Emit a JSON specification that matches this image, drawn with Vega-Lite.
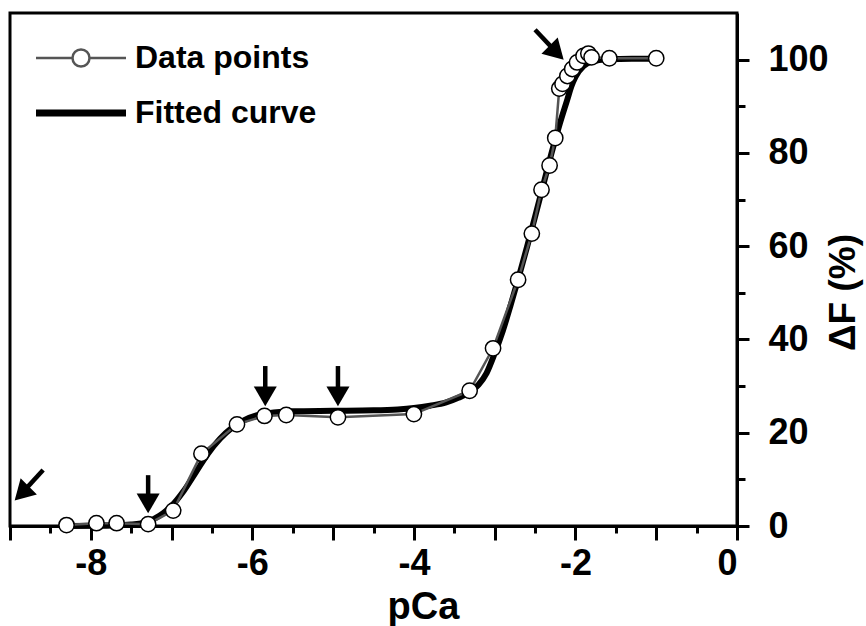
{
  "$schema": "https://vega.github.io/schema/vega-lite/v6.json",
  "width": 727,
  "height": 513,
  "autosize": {"type": "none"},
  "padding": {"left": 10, "top": 13, "right": 129, "bottom": 100},
  "background": "white",
  "datasets": {
    "points": [
      {"pCa": -8.30, "dF": 0.2}, {"pCa": -7.93, "dF": 0.6}, {"pCa": -7.68, "dF": 0.6},
      {"pCa": -7.29, "dF": 0.4}, {"pCa": -6.98, "dF": 3.3}, {"pCa": -6.63, "dF": 15.5},
      {"pCa": -6.19, "dF": 21.8}, {"pCa": -5.85, "dF": 23.6}, {"pCa": -5.58, "dF": 23.8},
      {"pCa": -4.94, "dF": 23.3}, {"pCa": -4.00, "dF": 24.0}, {"pCa": -3.31, "dF": 29.0},
      {"pCa": -3.02, "dF": 38.1}, {"pCa": -2.71, "dF": 52.8}, {"pCa": -2.54, "dF": 62.7},
      {"pCa": -2.42, "dF": 72.1}, {"pCa": -2.32, "dF": 77.3}, {"pCa": -2.25, "dF": 83.2},
      {"pCa": -2.20, "dF": 93.8}, {"pCa": -2.16, "dF": 94.8}, {"pCa": -2.10, "dF": 96.5},
      {"pCa": -2.04, "dF": 98.0}, {"pCa": -1.98, "dF": 99.4}, {"pCa": -1.90, "dF": 100.8},
      {"pCa": -1.84, "dF": 101.3}, {"pCa": -1.80, "dF": 100.5}, {"pCa": -1.58, "dF": 100.3},
      {"pCa": -1.00, "dF": 100.3}
    ],
    "fit": [
      {"pCa": -8.3, "dF": 0.0}, {"pCa": -7.8, "dF": 0.05}, {"pCa": -7.5, "dF": 0.3},
      {"pCa": -7.3, "dF": 0.9}, {"pCa": -7.15, "dF": 2.2}, {"pCa": -7.0, "dF": 4.3},
      {"pCa": -6.85, "dF": 7.5}, {"pCa": -6.7, "dF": 11.5}, {"pCa": -6.55, "dF": 15.5},
      {"pCa": -6.4, "dF": 18.7}, {"pCa": -6.25, "dF": 21.1}, {"pCa": -6.1, "dF": 22.7},
      {"pCa": -5.95, "dF": 23.7}, {"pCa": -5.8, "dF": 24.2}, {"pCa": -5.5, "dF": 24.6},
      {"pCa": -5.0, "dF": 24.7}, {"pCa": -4.5, "dF": 24.8}, {"pCa": -4.2, "dF": 25.0},
      {"pCa": -4.0, "dF": 25.3}, {"pCa": -3.8, "dF": 25.8}, {"pCa": -3.6, "dF": 26.5},
      {"pCa": -3.45, "dF": 27.5}, {"pCa": -3.3, "dF": 28.8}, {"pCa": -3.2, "dF": 30.3},
      {"pCa": -3.1, "dF": 32.8}, {"pCa": -3.0, "dF": 37.0}, {"pCa": -2.9, "dF": 41.8},
      {"pCa": -2.8, "dF": 47.5}, {"pCa": -2.7, "dF": 53.5}, {"pCa": -2.6, "dF": 59.8},
      {"pCa": -2.5, "dF": 66.3}, {"pCa": -2.4, "dF": 73.0}, {"pCa": -2.3, "dF": 79.7},
      {"pCa": -2.2, "dF": 85.9}, {"pCa": -2.1, "dF": 91.5}, {"pCa": -2.05, "dF": 94.3},
      {"pCa": -2.0, "dF": 96.3}, {"pCa": -1.9, "dF": 98.6}, {"pCa": -1.8, "dF": 99.6},
      {"pCa": -1.6, "dF": 100.1}, {"pCa": -1.3, "dF": 100.2}, {"pCa": -1.0, "dF": 100.2}
    ],
    "arrows": [
      {"kind": "down", "x0": -7.29, "y0": 10.9, "x1": -7.29, "y1": 4.85},
      {"kind": "down", "x0": -5.84, "y0": 34.3, "x1": -5.84, "y1": 27.8},
      {"kind": "down", "x0": -4.94, "y0": 34.3, "x1": -4.94, "y1": 27.8},
      {"kind": "downleft", "x0": -8.59, "y0": 12.0, "x1": -8.855, "y1": 7.0},
      {"kind": "downright", "x0": -2.50, "y0": 106.4, "x1": -2.233, "y1": 101.5}
    ]
  },
  "layer": [
    {
      "data": {"name": "fit"},
      "mark": {"type": "line", "strokeWidth": 6, "interpolate": "monotone"},
      "encoding": {
        "x": {
          "field": "pCa", "type": "quantitative",
          "scale": {"domain": [-9, 0], "nice": false, "zero": false},
          "axis": {
            "orient": "bottom",
            "values": [-9, -8.5, -8, -7.5, -7, -6.5, -6, -5.5, -5, -4.5, -4, -3.5, -3, -2.5, -2, -1.5, -1, -0.5, 0],
            "labelExpr": "datum.value % 2 === 0 ? '' + datum.value : ''",
            "labelOverlap": false,
            "labelFontSize": 36,
            "labelPadding": 6,
            "tickSize": {"condition": {"test": "datum.value % 1 !== 0", "value": 7}, "value": 14},
            "title": "pCa",
            "titleFontSize": 38,
            "titleX": 413,
            "titleY": 92,
            "titleAlign": "center",
            "titleBaseline": "alphabetic"
          }
        },
        "y": {
          "field": "dF", "type": "quantitative",
          "scale": {"domain": [0, 110], "nice": false, "zero": false},
          "axis": {
            "orient": "right",
            "values": [0, 10, 20, 30, 40, 50, 60, 70, 80, 90, 100],
            "labelExpr": "datum.value % 20 === 0 ? datum.label : ''",
            "labelOverlap": false,
            "labelFontSize": 36,
            "labelPadding": 19,
            "tickSize": {"condition": {"test": "datum.value % 20 !== 0", "value": 8}, "value": 12},
            "title": "ΔF (%)",
            "titleFontSize": 37,
            "titleAngle": 270,
            "titleX": 106,
            "titleY": 279,
            "titleAlign": "center",
            "titleBaseline": "middle"
          }
        },
        "stroke": {
          "datum": "Fitted curve",
          "scale": {"domain": ["Data points", "Fitted curve"], "range": ["#555555", "#000000"]},
          "legend": {
            "orient": "none",
            "legendX": 55,
            "legendY": 29,
            "title": null,
            "padding": 0,
            "symbolSize": 900,
            "symbolType": "M-3,0H3",
            "symbolStrokeWidth": 2.5,
            "labelFont": "Liberation Sans",
            "labelFontSize": 32,
            "labelFontWeight": "bold",
            "labelColor": "black",
            "labelLimit": 0,
            "labelOffset": 38,
            "rowPadding": 23,
            "encode": {
              "symbols": {
                "update": {
                  "shape": {"signal": "datum.value === 'Data points' ? 'M-3,0H-0.567M0.567,0H3M0.567,0A0.567,0.567,0,1,1,-0.567,0A0.567,0.567,0,1,1,0.567,0' : 'M-3,0H3'"},
                  "strokeWidth": {"signal": "datum.value === 'Data points' ? 2.5 : 7"},
                  "fill": {"signal": "datum.value === 'Data points' ? 'white' : 'transparent'"}
                }
              }
            }
          }
        }
      }
    },
    {
      "data": {"name": "points"},
      "mark": {"type": "line", "strokeWidth": 2.5},
      "encoding": {
        "x": {"field": "pCa", "type": "quantitative"},
        "y": {"field": "dF", "type": "quantitative"},
        "stroke": {"datum": "Data points"}
      }
    },
    {
      "data": {"name": "points"},
      "mark": {"type": "point", "shape": "circle", "filled": true, "fill": "white", "stroke": "black", "strokeWidth": 1.5, "size": 235, "opacity": 1},
      "encoding": {
        "x": {"field": "pCa", "type": "quantitative"},
        "y": {"field": "dF", "type": "quantitative"}
      }
    },
    {
      "data": {"name": "arrows"},
      "mark": {"type": "rule", "strokeWidth": 4.5, "color": "black"},
      "encoding": {
        "x": {"field": "x0", "type": "quantitative"},
        "y": {"field": "y0", "type": "quantitative"},
        "x2": {"field": "x1"},
        "y2": {"field": "y1"}
      }
    },
    {
      "data": {"name": "arrows"},
      "mark": {"type": "point", "shape": "triangle-down", "filled": true, "color": "black", "size": 530, "opacity": 1},
      "encoding": {
        "x": {"field": "x1", "type": "quantitative"},
        "y": {"field": "y1", "type": "quantitative"},
        "angle": {
          "condition": [
            {"test": "datum.kind === 'downleft'", "value": 45},
            {"test": "datum.kind === 'downright'", "value": -45}
          ],
          "value": 0
        }
      }
    }
  ],
  "config": {
    "view": {"stroke": "black", "strokeWidth": 3},
    "font": "Liberation Sans",
    "axis": {
      "grid": false,
      "domainColor": "black",
      "domainWidth": 3,
      "tickColor": "black",
      "tickWidth": 3,
      "labelColor": "black",
      "titleColor": "black",
      "labelFont": "Liberation Sans",
      "titleFont": "Liberation Sans",
      "labelFontWeight": "bold",
      "titleFontWeight": "bold"
    }
  }
}
